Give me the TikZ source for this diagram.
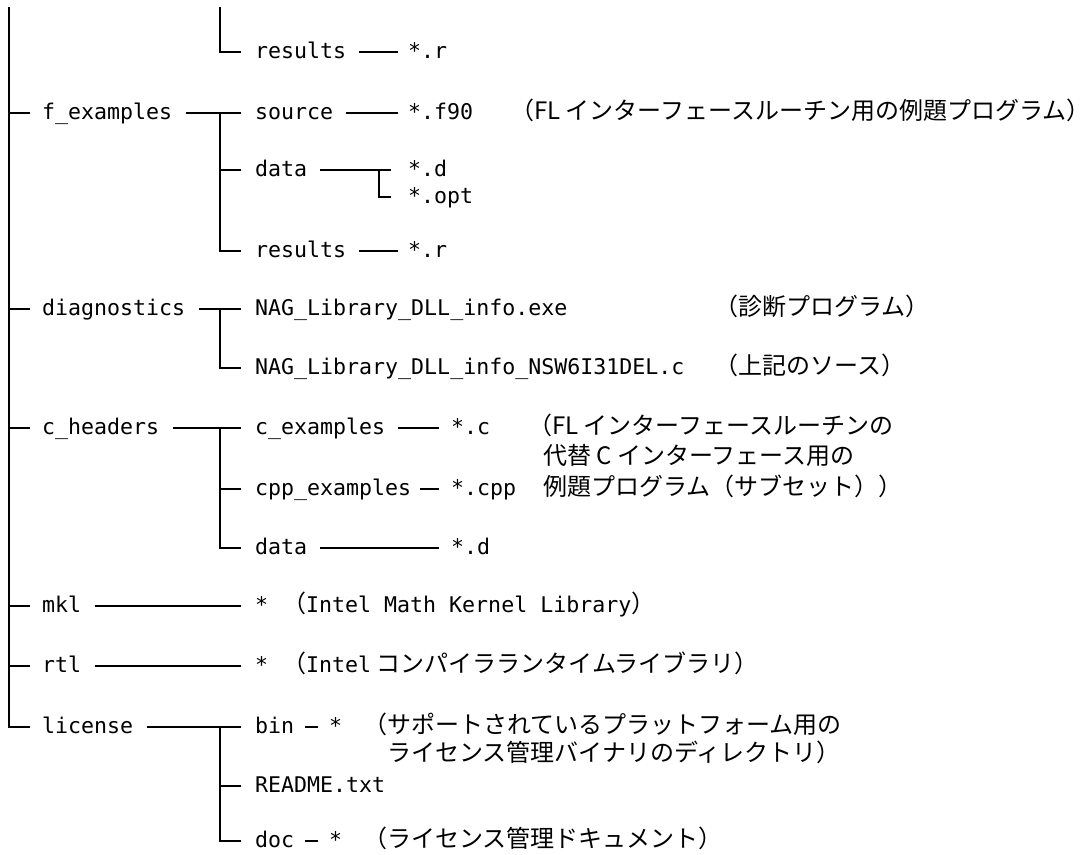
\documentclass[tikz,border=0pt]{standalone}
\usepackage{fontspec}
\newfontfamily\monofam{DejaVu Sans Mono}
\newfontfamily\jpfam{Noto Sans CJK JP}
\newcommand\mymono{\monofam\fontsize{21.6}{26}\selectfont}
\newcommand\myjp{\jpfam\fontsize{24}{28}\selectfont}
\begin{document}
\begin{tikzpicture}[x=1pt,y=-1pt,
  mt/.style={font=\mymono, inner sep=0pt, text height=12pt, text depth=0pt, anchor=west},
  jt/.style={font=\myjp, inner sep=0pt, anchor=base west},
  ln/.style={line width=1.5pt, line cap=butt}]
\useasboundingbox (0,0) rectangle (1092,854);
\fill[white] (0,0) rectangle (1092,854);
% ---------- coordinates of the vertical tree lines
\coordinate (tTop) at (9,7);
\coordinate (bTop) at (220,7);
\coordinate (sD) at (379,0);
% ---------- top group (results)
\node[mt] (resA) at (255,52) {results};
\node[mt] (rA) at (408,52) {*.r};
% ---------- f_examples
\node[mt] (fex) at (42,113) {f\_examples};
\node[mt] (src) at (255,113) {source};
\node[mt] (f90) at (408,113) {*.f90};
\node[jt] (jF) at (510,119) {（FL インターフェースルーチン用の例題プログラム）};
\node[mt] (datF) at (255,170) {data};
\node[mt] (dF) at (408,170) {*.d};
\node[mt] (opt) at (408,197) {*.opt};
\node[mt] (resF) at (255,251) {results};
\node[mt] (rF) at (408,251) {*.r};
% ---------- diagnostics
\node[mt] (diag) at (42,309) {diagnostics};
\node[mt] (exe) at (255,309) {NAG\_Library\_DLL\_info.exe};
\node[jt] (jG1) at (714,315) {（診断プログラム）};
\node[mt] (nagc) at (255,368) {NAG\_Library\_DLL\_info\_NSW6I31DEL.c};
\node[jt] (jG2) at (714,374) {（上記のソース）};
% ---------- c_headers
\node[mt] (chd) at (42,428) {c\_headers};
\node[mt] (cex) at (255,428) {c\_examples};
\node[mt] (cc) at (451,428) {*.c};
\node[jt] (jC1) at (528,434) {（FL インターフェースルーチンの};
\node[jt] (jC2) at (543,464.5) {代替 C インターフェース用の};
\node[jt] (jC3) at (543,495) {例題プログラム（サブセット））};
\node[mt] (cpp) at (255,489) {cpp\_examples};
\node[mt] (ccpp) at (451,489) {*.cpp};
\node[mt] (datC) at (255,548) {data};
\node[mt] (dC) at (451,548) {*.d};
% ---------- mkl, rtl
\node[mt] (mkl) at (42,606) {mkl};
\node[mt] (mklS) at (255,606) {*};
\node[jt] (jM) at (282,612) {（{\mymono Intel Math Kernel Library}）};
\node[mt] (rtl) at (42,666) {rtl};
\node[mt] (rtlS) at (255,666) {*};
\node[jt] (jR) at (282,672) {（{\mymono Intel} コンパイラランタイムライブラリ）};
% ---------- license
\node[mt] (lic) at (42,727) {license};
\node[mt] (bin) at (255,727) {bin};
\node[mt] (binS) at (329,727) {*};
\node[jt] (jL1) at (363,733) {（サポートされているプラットフォーム用の};
\node[jt] (jL2) at (387,761) {ライセンス管理バイナリのディレクトリ）};
\node[mt] (readme) at (255,786) {README.txt};
\node[mt] (doc) at (255,841) {doc};
\node[mt] (docS) at (329,841) {*};
\node[jt] (jD) at (363,847) {（ライセンス管理ドキュメント）};
% ---------- main trunk
\draw[ln] (tTop) |- ([xshift=-12pt]lic.west);
\foreach \n in {fex,diag,chd,mkl,rtl}
  \draw[ln] (\n.west -| tTop) -- ([xshift=-12pt]\n.west);
% ---------- top group
\draw[ln] (bTop) |- ([xshift=-14pt]resA.west);
\draw[ln] ([xshift=13pt]resA.east) -- ([xshift=-10pt]rA.west);
% ---------- f_examples group
\draw[ln] ([xshift=14pt]fex.east) -- ([xshift=-14pt]src.west);
\draw[ln] (src.west -| bTop) |- ([xshift=-14pt]resF.west);
\draw[ln] (datF.west -| bTop) -- ([xshift=-14pt]datF.west);
\draw[ln] ([xshift=13pt]src.east) -- ([xshift=-10pt]f90.west);
\draw[ln] ([xshift=13pt]datF.east) -- ([xshift=-17pt]dF.west);
\draw[ln] (dF.west -| sD) |- ([xshift=-17pt]opt.west);
\draw[ln] ([xshift=13pt]resF.east) -- ([xshift=-10pt]rF.west);
% ---------- diagnostics group
\draw[ln] ([xshift=14pt]diag.east) -- ([xshift=-14pt]exe.west);
\draw[ln] (exe.west -| bTop) |- ([xshift=-14pt]nagc.west);
% ---------- c_headers group
\draw[ln] ([xshift=14pt]chd.east) -- ([xshift=-14pt]cex.west);
\draw[ln] (cex.west -| bTop) |- ([xshift=-14pt]datC.west);
\draw[ln] (cpp.west -| bTop) -- ([xshift=-14pt]cpp.west);
\draw[ln] ([xshift=13pt]cex.east) -- ([xshift=-12pt]cc.west);
\draw[ln] ([xshift=9pt]cpp.east) -- ([xshift=-12pt]ccpp.west);
\draw[ln] ([xshift=13pt]datC.east) -- ([xshift=-12pt]dC.west);
% ---------- mkl, rtl
\draw[ln] ([xshift=14pt]mkl.east) -- ([xshift=-14pt]mklS.west);
\draw[ln] ([xshift=14pt]rtl.east) -- ([xshift=-14pt]rtlS.west);
% ---------- license group
\draw[ln] ([xshift=14pt]lic.east) -- ([xshift=-14pt]bin.west);
\draw[ln] (bin.west -| bTop) |- ([xshift=-14pt]doc.west);
\draw[ln] (readme.west -| bTop) -- ([xshift=-14pt]readme.west);
\draw[ln] ([xshift=11pt]bin.east) -- ([xshift=-11pt]binS.west);
\draw[ln] ([xshift=11pt]doc.east) -- ([xshift=-11pt]docS.west);
\end{tikzpicture}
\end{document}
